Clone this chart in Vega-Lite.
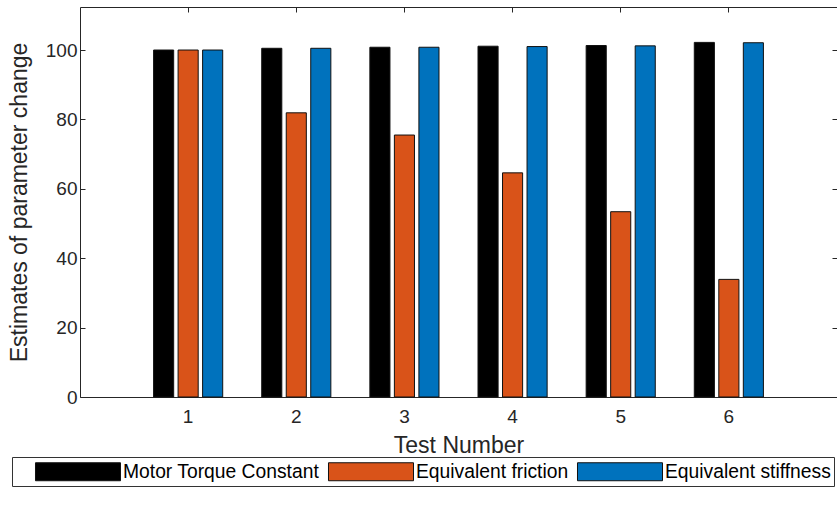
{
  "$schema": "https://vega.github.io/schema/vega-lite/v6.json",
  "width": 757,
  "height": 390,
  "autosize": "none",
  "padding": {"left": 80, "top": 7, "right": 0, "bottom": 116},
  "background": "white",
  "config": {
    "view": {"stroke": null},
    "font": "Liberation Sans",
    "axis": {
      "grid": false,
      "domainColor": "#262626",
      "domainWidth": 1,
      "tickColor": "#262626",
      "tickWidth": 1,
      "labelColor": "#262626",
      "titleColor": "#262626",
      "labelFont": "Liberation Sans",
      "titleFont": "Liberation Sans",
      "labelFontSize": 19,
      "titleFontSize": 23,
      "titleFontWeight": "normal"
    }
  },
  "data": {
    "values": [
      {"test": "1", "param": "Motor Torque Constant", "value": 100},
      {"test": "1", "param": "Equivalent friction", "value": 100},
      {"test": "1", "param": "Equivalent stiffness", "value": 100},
      {"test": "2", "param": "Motor Torque Constant", "value": 100.5},
      {"test": "2", "param": "Equivalent friction", "value": 81.9},
      {"test": "2", "param": "Equivalent stiffness", "value": 100.5},
      {"test": "3", "param": "Motor Torque Constant", "value": 100.8},
      {"test": "3", "param": "Equivalent friction", "value": 75.5},
      {"test": "3", "param": "Equivalent stiffness", "value": 100.8},
      {"test": "4", "param": "Motor Torque Constant", "value": 101.1},
      {"test": "4", "param": "Equivalent friction", "value": 64.6},
      {"test": "4", "param": "Equivalent stiffness", "value": 101},
      {"test": "5", "param": "Motor Torque Constant", "value": 101.3},
      {"test": "5", "param": "Equivalent friction", "value": 53.4},
      {"test": "5", "param": "Equivalent stiffness", "value": 101.2},
      {"test": "6", "param": "Motor Torque Constant", "value": 102.2},
      {"test": "6", "param": "Equivalent friction", "value": 33.9},
      {"test": "6", "param": "Equivalent stiffness", "value": 102.1}
    ]
  },
  "layer": [
    {
      "mark": {"type": "bar", "stroke": "#111111", "strokeWidth": 1},
      "encoding": {
        "x": {
          "field": "test",
          "type": "nominal",
          "scale": {"paddingInner": 0.32, "paddingOuter": 0.66},
          "axis": {
            "orient": "bottom",
            "title": "Test Number",
            "labelAngle": 0,
            "tickSize": -5,
            "labelPadding": 15,
            "titlePadding": 8
          }
        },
        "xOffset": {
          "field": "param",
          "type": "nominal",
          "scale": {
            "domain": ["Motor Torque Constant", "Equivalent friction", "Equivalent stiffness"],
            "paddingInner": 0.18,
            "paddingOuter": 0.09
          }
        },
        "y": {
          "field": "value",
          "type": "quantitative",
          "scale": {"domain": [0, 112.4], "nice": false},
          "axis": {
            "orient": "left",
            "title": "Estimates of parameter change",
            "values": [0, 20, 40, 60, 80, 100],
            "tickSize": -5,
            "labelPadding": 8,
            "titlePadding": 14
          }
        },
        "color": {
          "field": "param",
          "type": "nominal",
          "scale": {
            "domain": ["Motor Torque Constant", "Equivalent friction", "Equivalent stiffness"],
            "range": ["#000000", "#D95319", "#0072BD"]
          },
          "legend": {
            "orient": "none",
            "legendX": -68,
            "legendY": 450,
            "direction": "horizontal",
            "title": " ",
            "titleOrient": "left",
            "titlePadding": 20,
            "titleFontSize": 10,
            "padding": 3,
            "strokeColor": "#333333",
            "fillColor": "white",
            "symbolType": "M-3.864,-0.818H3.864V0.818H-3.864Z",
            "symbolSize": 484,
            "symbolOffset": 31.5,
            "symbolStrokeColor": "#111111",
            "symbolStrokeWidth": 1,
            "symbolOpacity": 1,
            "labelFont": "Liberation Sans",
            "labelFontSize": 19.3,
            "labelColor": "#000000",
            "labelOffset": 33.5,
            "columnPadding": 6,
            "labelLimit": 400
          }
        }
      }
    },
    {
      "mark": {"type": "bar", "opacity": 0},
      "encoding": {
        "x": {
          "field": "test",
          "type": "nominal",
          "axis": {"orient": "top", "title": null, "labels": false, "tickSize": -5}
        },
        "y": {
          "field": "value",
          "type": "quantitative",
          "axis": {"orient": "right", "title": null, "labels": false, "values": [0, 20, 40, 60, 80, 100], "tickSize": -5}
        }
      }
    }
  ],
  "resolve": {"axis": {"x": "independent", "y": "independent"}}
}
